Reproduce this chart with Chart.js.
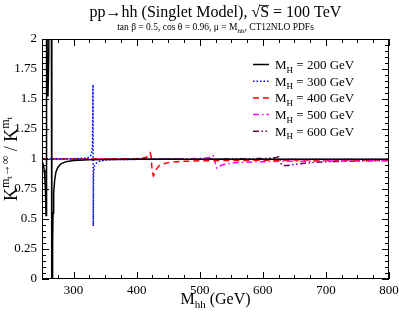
<!DOCTYPE html>
<html><head><meta charset="utf-8">
<script src="https://cdn.jsdelivr.net/npm/chart.js@4/dist/chart.umd.min.js"></script>
<style>html,body{margin:0;padding:0;background:#fff}canvas{display:block}</style>
</head><body>
<canvas id="c" width="399" height="313"></canvas>
<script>
// ---- data ----
const seriesLabels = ['200', '300', '400', '500', '600'];
const xMH200 = [250, 252, 253.5, 254.5, 255.3, 256, 256.4, 256.8, 257.6, 258.3, 259.5, 260.7, 261.6, 264.8, 265.6, 266.3, 266.8, 267.5, 268.5, 270, 272, 275, 280, 288, 300, 325, 400, 500, 600, 700, 800];
const yMH200 = [0.98, 0.955, 0.91, 0.85, 0.75, 0.62, 0.53, 2.6, 2.6, 1.85, 1.52, 1.85, 2.6, 2.6, -0.6, -0.6, 0.3, 0.55, 0.72, 0.82, 0.89, 0.93, 0.96, 0.978, 0.988, 0.994, 0.997, 0.998, 0.998, 0.998, 0.998];
const xMH300 = [250, 280, 300, 315, 322, 326, 328.5, 330, 330.8, 331.3, 331.8, 333, 336, 340, 345, 352, 365, 400, 500, 800];
const yMH300 = [1.0, 1.0, 1.003, 1.006, 1.01, 1.02, 1.04, 1.1, 1.62, 0.44, 0.88, 0.94, 0.965, 0.978, 0.986, 0.992, 0.995, 0.997, 0.998, 0.998];
const xMH400 = [250, 350, 400, 410, 416, 419, 421.5, 423, 424.5, 426.5, 429, 432, 436, 442, 452, 470, 500, 600, 800];
const yMH400 = [1.0, 1.0, 1.003, 1.008, 1.015, 1.03, 1.05, 1.02, 0.9, 0.86, 0.885, 0.92, 0.945, 0.96, 0.972, 0.98, 0.985, 0.99, 0.993];
const xMH500 = [250, 400, 480, 505, 515, 520, 522.5, 524.5, 527, 530, 535, 545, 560, 580, 620, 700, 800];
const yMH500 = [1.0, 1.0, 1.002, 1.006, 1.012, 1.02, 1.03, 0.97, 0.925, 0.935, 0.95, 0.962, 0.97, 0.975, 0.98, 0.983, 0.986];
const xMH600 = [250, 500, 580, 605, 615, 621, 625, 627, 629, 632, 639, 650, 665, 685, 706, 750, 800];
const yMH600 = [1.0, 1.0, 1.002, 1.005, 1.009, 1.013, 1.018, 1.0, 0.96, 0.945, 0.945, 0.955, 0.965, 0.972, 0.978, 0.984, 0.988];
const xTickValues = [300, 400, 500, 600, 700, 800];
const yTickValues = [0, 0.25, 0.5, 0.75, 1, 1.25, 1.5, 1.75, 2];
const yTickLabels = ['0', '0.25', '0.5', '0.75', '1', '1.25', '1.5', '1.75', '2'];

const FONT = '"Liberation Serif", "Times New Roman", serif';
const f = s => s + 'px ' + FONT;

function pts(xs, ys) { return xs.map((x, i) => ({ x: x, y: ys[i] })); }

const styles = [
  { c: '#000000', d: [] },
  { c: '#0000ff', d: [1.5, 2] },
  { c: '#ff0000', d: [6, 4] },
  { c: '#ff00ff', d: [6, 3, 1.5, 3] },
  { c: '#670748', d: [6, 2.5, 1.5, 2.5, 1.5, 2.5] }
];
const allX = [xMH200, xMH300, xMH400, xMH500, xMH600];
const allY = [yMH200, yMH300, yMH400, yMH500, yMH600];

const datasets = seriesLabels.map((l, i) => ({
  label: 'M_H = ' + l + ' GeV',
  data: pts(allX[i], allY[i]),
  borderColor: styles[i].c,
  borderDash: styles[i].d,
  borderWidth: 1.5,
  pointRadius: 0,
  tension: 0,
  fill: false
}));

function runs(ctx, list, x, y, align) {
  let w = 0;
  list.forEach(r => { ctx.font = f(r.s); r.w = ctx.measureText(r.t).width; w += r.w; });
  let cx = align === 'center' ? x - w / 2 : (align === 'right' ? x - w : x);
  ctx.textAlign = 'left';
  ctx.textBaseline = 'alphabetic';
  list.forEach(r => {
    ctx.font = f(r.s);
    ctx.fillText(r.t, cx, y + (r.dy || 0));
    if (r.over) {
      ctx.beginPath(); ctx.lineWidth = 0.8;
      ctx.moveTo(cx - 1, y - r.s * 0.72); ctx.lineTo(cx + r.w, y - r.s * 0.72); ctx.stroke();
    }
    cx += r.w;
  });
  return w;
}

const deco = {
  id: 'deco',
  afterDraw(chart) {
    const { ctx, chartArea: a, scales: { x, y } } = chart;
    ctx.save();
    ctx.fillStyle = '#000'; ctx.strokeStyle = '#000';
    ctx.lineWidth = 1;
    ctx.strokeRect(Math.round(a.left) + 0.5, Math.round(a.top) + 0.5, Math.round(a.right - a.left) - 1, Math.round(a.bottom - a.top) - 1);
    for (let v = 250; v <= 800; v += 25) {
      const px = Math.round(x.getPixelForValue(v)) + 0.5;
      const L = (v % 100 === 0) ? 7 : 4;
      ctx.beginPath();
      ctx.moveTo(px, a.bottom); ctx.lineTo(px, a.bottom - L);
      ctx.moveTo(px, a.top); ctx.lineTo(px, a.top + L);
      ctx.stroke();
    }
    for (let k = 0; k <= 40; k++) {
      const py = Math.round(y.getPixelForValue(k * 0.05)) + 0.5;
      const L = (k % 5 === 0) ? 7 : 4;
      ctx.beginPath();
      ctx.moveTo(a.left, py); ctx.lineTo(a.left + L, py);
      ctx.moveTo(a.right, py); ctx.lineTo(a.right - L, py);
      ctx.stroke();
    }
    const cxp = (a.left + a.right) / 2;
    runs(ctx, [{ t: 'pp→hh (Singlet Model), √', s: 16 }, { t: 'S', s: 16, over: true }, { t: ' = 100 TeV', s: 16 }], cxp, 17, 'center');
    runs(ctx, [{ t: 'tan β = 0.5, cos θ = 0.96, μ = M', s: 9.5 }, { t: 'hh', s: 7, dy: 2.5 }, { t: ', CT12NLO PDFs', s: 9.5 }], cxp, 30, 'center');
    runs(ctx, [{ t: 'M', s: 16 }, { t: 'hh', s: 11, dy: 4 }, { t: ' (GeV)', s: 16 }], cxp, 304, 'center');
    ctx.save();
    ctx.translate(17, (a.top + a.bottom) / 2);
    ctx.rotate(-Math.PI / 2);
    runs(ctx, [
      { t: 'K', s: 18 }, { t: 'm', s: 12, dy: -8 }, { t: 't', s: 9, dy: -5 }, { t: '→∞', s: 12, dy: -8 },
      { t: ' / K', s: 18 }, { t: 'm', s: 12, dy: -8 }, { t: 't', s: 9, dy: -5 }
    ], 0, 0, 'center');
    ctx.restore();
    chart.data.datasets.forEach((ds, i) => {
      const ry = 64.5 + i * 16.7;
      ctx.save();
      ctx.strokeStyle = ds.borderColor; ctx.lineWidth = 1.5; ctx.setLineDash(ds.borderDash);
      ctx.beginPath(); ctx.moveTo(253, ry); ctx.lineTo(269, ry); ctx.stroke();
      ctx.restore();
      runs(ctx, [{ t: 'M', s: 13 }, { t: 'H', s: 9, dy: 3.5 }, { t: ' = ' + seriesLabels[i] + ' GeV', s: 13 }], 275, ry + 4.5, 'left');
    });
    ctx.restore();
  }
};

new Chart(document.getElementById('c'), {
  type: 'line',
  data: { datasets: datasets },
  options: {
    responsive: false,
    animation: false,
    devicePixelRatio: 1,
    layout: { padding: { top: 39, right: 10, left: 0, bottom: 0 } },
    plugins: { legend: { display: false }, tooltip: { enabled: false }, title: { display: false } },
    scales: {
      x: {
        type: 'linear', min: 250, max: 800,
        grid: { display: false, drawTicks: false }, border: { display: false },
        afterBuildTicks: s => { s.ticks = xTickValues.map(v => ({ value: v })); },
        afterFit: s => { s.height = 34; s.paddingLeft = 0; s.paddingRight = 0; },
        ticks: { font: { family: FONT, size: 13 }, color: '#000', padding: 4, maxRotation: 0, autoSkip: false }
      },
      y: {
        type: 'linear', min: 0, max: 2,
        grid: { display: false, drawTicks: false }, border: { display: false },
        afterBuildTicks: s => { s.ticks = yTickValues.map(v => ({ value: v })); },
        afterFit: s => { s.width = 42; s.paddingTop = 0; s.paddingBottom = 0; },
        ticks: { font: { family: FONT, size: 13 }, color: '#000', padding: 5, autoSkip: false,
          callback: (v) => { const i = yTickValues.indexOf(v); return i >= 0 ? yTickLabels[i] : ''; } }
      }
    }
  },
  plugins: [deco]
});
</script>
</body></html>
